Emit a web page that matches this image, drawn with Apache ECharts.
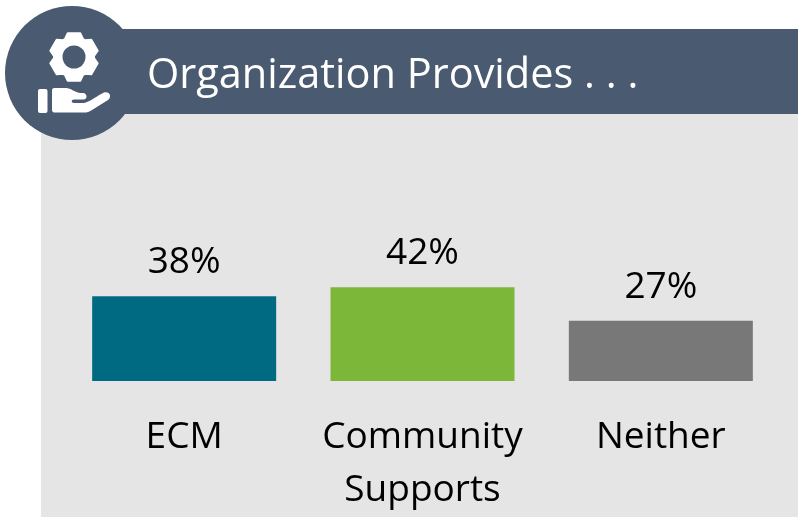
<!DOCTYPE html>
<html><head><meta charset="utf-8">
<style>html,body{margin:0;padding:0;background:#fff}#c{width:798px;height:517px}</style>
<script src="https://cdn.jsdelivr.net/npm/echarts@6/dist/echarts.min.js"></script>
</head><body><div id="c"></div>
<script>
const titleText = 'Organization Provides . . .';
const categories = ['ECM', 'Community\nSupports', 'Neither'];
const values = [38, 42, 27];
const barColors = ['#006A83', '#7CB73A', '#787878'];
const FONT = '"Open Sans"';
const NAVY = '#4A5A70';

// decorative icon: six-toothed gear outline
let gearPath = '';
for (let k = 0; k < 6; k++) {
  const a = (k * 60 - 90) * Math.PI / 180;
  [[20, -27], [24.5, -15], [24.5, 15], [20, 27]].forEach(([r, d], j) => {
    const t = a + d * Math.PI / 180;
    gearPath += (k === 0 && j === 0 ? 'M' : 'L') + (r * Math.cos(t)).toFixed(2) + ',' + (r * Math.sin(t)).toFixed(2) + ' ';
  });
}
gearPath += 'Z';
const handPath = 'M54,88 L66,88 C71,88 74,92 80,93 L83,93 C87,93 88,99 84,99.5 L74,99.5 C71,99.5 71,103 74,103 L84,103 C90,102 98,95 104,92.5 C110,91 112,97 108,100 L92,110 C89,112 87,112.5 84,112.5 L54,112.5 C53,112.5 52,111.5 52,110 L52,90 C52,89 53,88 54,88 Z';
echarts.graphic.registerShape('gearIcon', echarts.graphic.extendPath(gearPath, {}));
echarts.graphic.registerShape('handIcon', echarts.graphic.extendPath(handPath, {}));

const chart = echarts.init(document.getElementById('c'), null, {renderer: 'canvas'});
chart.setOption({
  animation: false,
  backgroundColor: '#fff',
  grid: {left: 65, right: 18, top: 247, bottom: 136},
  xAxis: {
    type: 'category', data: categories,
    axisLine: {show: false}, axisTick: {show: false},
    axisLabel: {fontFamily: FONT, fontSize: 37, lineHeight: 53, color: '#000', margin: 30, interval: 0}
  },
  yAxis: {type: 'value', min: 0, max: 60, show: false, splitLine: {show: false}},
  series: [{
    type: 'bar', barWidth: 184, z: 5,
    data: values.map((v, i) => ({value: v, itemStyle: {color: barColors[i]}})),
    label: {show: true, position: 'top', distance: 15, formatter: '{c}%', fontFamily: FONT, fontSize: 37, color: '#000'}
  }],
  graphic: [
    {type: 'rect', z: -10, shape: {x: 41, y: 114, width: 757, height: 403}, style: {fill: '#E5E5E5'}},
    {type: 'rect', z: -9, shape: {x: 60, y: 29, width: 738, height: 85}, style: {fill: NAVY}},
    {type: 'circle', z: -8, shape: {cx: 72, cy: 73, r: 67}, style: {fill: NAVY}},
    {type: 'gearIcon', z: -7, x: 74, y: 57, style: {fill: '#fff', stroke: '#fff', lineWidth: 2, lineJoin: 'round'}},
    {type: 'circle', z: -6, shape: {cx: 74, cy: 57, r: 11.5}, style: {fill: NAVY}},
    {type: 'rect', z: -7, shape: {x: 38, y: 89, width: 9.5, height: 24, r: 2}, style: {fill: '#fff'}},
    {type: 'handIcon', z: -7, style: {fill: '#fff'}},
    {type: 'text', z: 10, x: 147, y: 76, style: {text: titleText, fontFamily: FONT, fontSize: 41.5, fill: '#fff', textVerticalAlign: 'middle'}}
  ]
});
</script></body></html>
